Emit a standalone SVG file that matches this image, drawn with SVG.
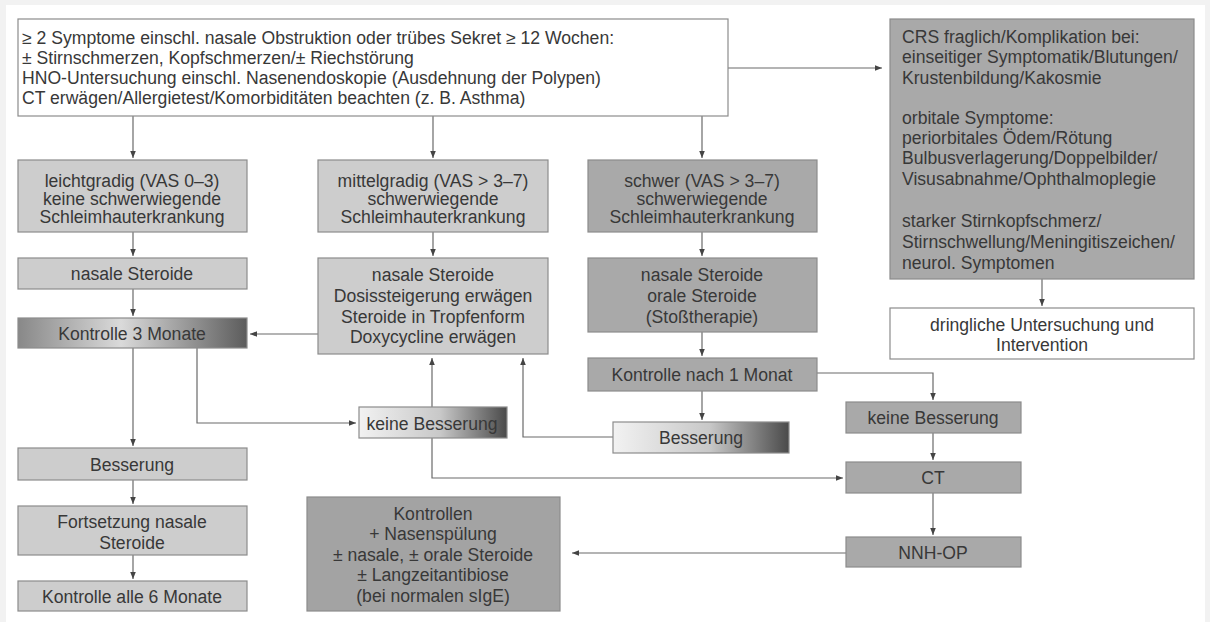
<svg xmlns="http://www.w3.org/2000/svg" width="1210" height="622" viewBox="0 0 1210 622">
<defs>
<style>
text{font-family:"Liberation Sans",Arial,sans-serif;font-size:17.6px;fill:#383838}
.c{text-anchor:middle}
.w{fill:#fff;stroke:#8c8c8c;stroke-width:1.2}
.l{fill:#cdcdcd;stroke:#8c8c8c;stroke-width:1.2}
.d{fill:#a9a9a9;stroke:#8c8c8c;stroke-width:1.2}
.k{fill:#a3a3a3;stroke:#8c8c8c;stroke-width:1.2}
#conn path{fill:none;stroke:#6a6a6a;stroke-width:1.2;marker-end:url(#ah)}
</style>
<marker id="ah" viewBox="0 0 10 10" refX="10" refY="5" markerWidth="7" markerHeight="7" markerUnits="userSpaceOnUse" orient="auto"><path d="M0,1 L10,5 L0,9 z" fill="#444"/></marker>
<linearGradient id="g1" x1="0" y1="0" x2="1" y2="0"><stop offset="0" stop-color="#888"/><stop offset="0.45" stop-color="#dadada"/><stop offset="1" stop-color="#5c5c5c"/></linearGradient>
<linearGradient id="g2" x1="0" y1="0" x2="1" y2="0"><stop offset="0" stop-color="#f2f2f2"/><stop offset="0.55" stop-color="#c8c8c8"/><stop offset="1" stop-color="#4a4a4a"/></linearGradient>
</defs>
<rect x="0" y="0" width="1210" height="622" fill="#f2f2f2"/>
<rect x="6" y="5" width="1199" height="617" fill="#fff"/>
<g id="conn">
<path d="M133,116 V158"/>
<path d="M433,116 V158"/>
<path d="M702,116 V158"/>
<path d="M728,68 H882"/>
<path d="M1042,279 V306"/>
<path d="M133,232 V256"/>
<path d="M433,232 V256"/>
<path d="M702,232 V256"/>
<path d="M133,289 V316"/>
<path d="M318,334 H250"/>
<path d="M702,332 V356"/>
<path d="M817,373 H933 V400"/>
<path d="M133,348 V446"/>
<path d="M197,348 V423 H356"/>
<path d="M432,407 V358"/>
<path d="M702,391 V420"/>
<path d="M613,437 H523 V358"/>
<path d="M432,438 V478 H843"/>
<path d="M933,433 V460"/>
<path d="M933,493 V535"/>
<path d="M846,553 H572"/>
<path d="M133,480 V504"/>
<path d="M133,555 V579"/>
</g>
<g id="top">
<rect class="w" x="18" y="19" width="710" height="97"/>
<text x="22" y="43.5">≥ 2 Symptome einschl. nasale Obstruktion oder trübes Sekret ≥ 12 Wochen:</text>
<text x="22" y="63.5">± Stirnschmerzen, Kopfschmerzen/± Riechstörung</text>
<text x="22" y="83.5">HNO-Untersuchung einschl. Nasenendoskopie (Ausdehnung der Polypen)</text>
<text x="22" y="103.5">CT erwägen/Allergietest/Komorbiditäten beachten (z. B. Asthma)</text>
</g>
<g id="crs">
<rect class="d" x="890" y="19" width="304" height="260"/>
<text x="902" y="42.5">CRS fraglich/Komplikation bei:</text>
<text x="902" y="62.5">einseitiger Symptomatik/Blutungen/</text>
<text x="902" y="83.5">Krustenbildung/Kakosmie</text>
<text x="902" y="123.5">orbitale Symptome:</text>
<text x="902" y="143.5">periorbitales Ödem/Rötung</text>
<text x="902" y="163.5">Bulbusverlagerung/Doppelbilder/</text>
<text x="902" y="184.5">Visusabnahme/Ophthalmoplegie</text>
<text x="902" y="226.5">starker Stirnkopfschmerz/</text>
<text x="902" y="247.5">Stirnschwellung/Meningitiszeichen/</text>
<text x="902" y="268.5">neurol. Symptomen</text>
</g>
<g id="dringlich">
<rect class="w" x="890" y="308" width="304" height="51"/>
<text class="c" x="1042" y="330.5">dringliche Untersuchung und</text>
<text class="c" x="1042" y="350.5">Intervention</text>
</g>
<g id="leicht">
<rect class="l" x="18" y="160" width="229" height="72"/>
<text class="c" x="132" y="186.5">leichtgradig (VAS 0–3)</text>
<text class="c" x="132" y="204.5">keine schwerwiegende</text>
<text class="c" x="132" y="222.5">Schleimhauterkrankung</text>
</g>
<g id="mittel">
<rect class="l" x="318" y="160" width="230" height="72"/>
<text class="c" x="433" y="186.5">mittelgradig (VAS &gt; 3–7)</text>
<text class="c" x="433" y="204.5">schwerwiegende</text>
<text class="c" x="433" y="222.5">Schleimhauterkrankung</text>
</g>
<g id="schwer">
<rect class="d" x="588" y="160" width="229" height="72"/>
<text class="c" x="702" y="186.5">schwer (VAS &gt; 3–7)</text>
<text class="c" x="702" y="204.5">schwerwiegende</text>
<text class="c" x="702" y="222.5">Schleimhauterkrankung</text>
</g>
<g id="nasal1">
<rect class="l" x="18" y="258" width="229" height="31"/>
<text class="c" x="132" y="279.5">nasale Steroide</text>
</g>
<g id="kontrolle3">
<rect x="18" y="318" width="229" height="30" fill="url(#g1)" stroke="#8c8c8c" stroke-width="1.2"/>
<text class="c" x="132" y="339.5">Kontrolle 3 Monate</text>
</g>
<g id="mittelther">
<rect class="l" x="318" y="258" width="230" height="96"/>
<text class="c" x="433" y="280.5">nasale Steroide</text>
<text class="c" x="433" y="301.5">Dosissteigerung erwägen</text>
<text class="c" x="433" y="322.5">Steroide in Tropfenform</text>
<text class="c" x="433" y="342.5">Doxycycline erwägen</text>
</g>
<g id="schwerther">
<rect class="d" x="588" y="258" width="229" height="74"/>
<text class="c" x="702" y="280.5">nasale Steroide</text>
<text class="c" x="702" y="301.5">orale Steroide</text>
<text class="c" x="702" y="322.5">(Stoßtherapie)</text>
</g>
<g id="kontrolle1">
<rect class="d" x="588" y="358" width="229" height="33"/>
<text class="c" x="702" y="380.5">Kontrolle nach 1 Monat</text>
</g>
<g id="keineB1">
<rect x="359" y="407" width="148" height="31" fill="url(#g2)" stroke="#8c8c8c" stroke-width="1.2"/>
<text class="c" x="432" y="429.5">keine Besserung</text>
</g>
<g id="besserungC">
<rect x="613" y="422" width="176" height="31" fill="url(#g2)" stroke="#8c8c8c" stroke-width="1.2"/>
<text class="c" x="701" y="443.5">Besserung</text>
</g>
<g id="keineB2">
<rect class="d" x="846" y="402" width="175" height="31"/>
<text class="c" x="933" y="423.5">keine Besserung</text>
</g>
<g id="ct">
<rect class="d" x="846" y="462" width="175" height="31"/>
<text class="c" x="933" y="483.5">CT</text>
</g>
<g id="nnh">
<rect class="d" x="846" y="537" width="175" height="30"/>
<text class="c" x="933" y="558.5">NNH-OP</text>
</g>
<g id="kontrollen">
<rect class="k" x="307" y="497" width="253" height="114"/>
<text class="c" x="433" y="519.5">Kontrollen</text>
<text class="c" x="433" y="540">+ Nasenspülung</text>
<text class="c" x="433" y="561">± nasale, ± orale Steroide</text>
<text class="c" x="433" y="581">± Langzeitantibiose</text>
<text class="c" x="433" y="601.5">(bei normalen sIgE)</text>
</g>
<g id="besserungA">
<rect class="l" x="18" y="448" width="229" height="32"/>
<text class="c" x="132" y="470.5">Besserung</text>
</g>
<g id="fortsetzung">
<rect class="l" x="18" y="506" width="229" height="49"/>
<text class="c" x="132" y="527.5">Fortsetzung nasale</text>
<text class="c" x="132" y="548.5">Steroide</text>
</g>
<g id="kontrolle6">
<rect class="l" x="18" y="581" width="229" height="30"/>
<text class="c" x="132" y="602.5">Kontrolle alle 6 Monate</text>
</g>
</svg>
